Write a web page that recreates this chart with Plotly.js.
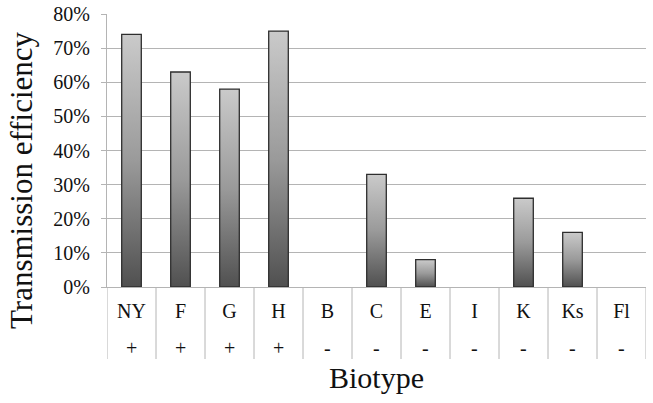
<!DOCTYPE html>
<html>
<head>
<meta charset="utf-8">
<script src="https://cdn.plot.ly/plotly-3.0.1.min.js"></script>
<style>html,body{margin:0;padding:0;background:#fff;}#chart{width:653px;height:403px;}</style>
</head>
<body>
<div id="chart"></div>
<script>
var biotypes = ["NY", "F", "G", "H", "B", "C", "E", "I", "K", "Ks", "Fl"];
var signs = ["+", "+", "+", "+", "-", "-", "-", "-", "-", "-", "-"];
var efficiency = [0.74, 0.63, 0.58, 0.75, 0, 0.33, 0.08, 0, 0.26, 0.16, 0];
var yTickVals = [0, 0.1, 0.2, 0.3, 0.4, 0.5, 0.6, 0.7, 0.8];
var xTitle = "Biotype";
var yTitle = "Transmission efficiency";

var FONT = "'Liberation Serif', 'Times New Roman', Times, serif";
var GRID = "#b4b4b4";

var trace = {
  type: "bar",
  x: biotypes,
  y: efficiency,
  width: 0.4,
  marker: {
    color: "#8c8c8c",
    line: {color: "#2e2e2e", width: efficiency.map(function (v) { return v > 0 ? 1.3 : 0; })}
  },
  hoverinfo: "x+y"
};

var shapes = [];
for (var i = 0; i <= biotypes.length; i++) {
  shapes.push({
    type: "line", xref: "x", yref: "paper", ysizemode: "pixel", yanchor: 0,
    x0: i - 0.5, x1: i - 0.5, y0: 0, y1: -72,
    line: {color: GRID, width: 1}
  });
}
var annotations = biotypes.map(function (b, i) {
  return {
    xref: "x", yref: "paper", x: b, y: 0, yanchor: "middle", yshift: -61,
    text: signs[i], showarrow: false, font: {family: FONT, size: 20, color: "#111"}
  };
});
annotations.push({
  xref: "paper", yref: "paper", x: 0, y: 0, xanchor: "center", yanchor: "middle",
  xshift: -86, yshift: 107, textangle: -90,
  text: yTitle, showarrow: false, font: {family: FONT, size: 31, color: "#111"}
});

var layout = {
  width: 653, height: 403,
  margin: {l: 107, r: 7, t: 14, b: 116},
  paper_bgcolor: "#fff", plot_bgcolor: "#fff",
  showlegend: false,
  font: {family: FONT, color: "#111"},
  xaxis: {
    type: "category",
    range: [-0.5, biotypes.length - 0.5],
    showgrid: false, zeroline: false,
    showline: true, linecolor: GRID, linewidth: 1,
    ticks: "", ticklabelstandoff: 6,
    tickfont: {family: FONT, size: 20, color: "#111"},
    title: {text: xTitle, font: {family: FONT, size: 30, color: "#111"}, standoff: 45},
    automargin: false
  },
  yaxis: {
    range: [0, 0.8],
    tickvals: yTickVals,
    tickformat: ".0%",
    showgrid: true, gridcolor: GRID, gridwidth: 1,
    zeroline: false,
    showline: true, linecolor: GRID, linewidth: 1,
    ticks: "outside", ticklen: 5, tickcolor: GRID, tickwidth: 1,
    ticklabelstandoff: 7,
    tickfont: {family: FONT, size: 20, color: "#111"},
    automargin: false
  },
  shapes: shapes,
  annotations: annotations
};

Plotly.newPlot("chart", [trace], layout, {displayModeBar: false, staticPlot: true}).then(function (gd) {
  var svg = gd.querySelector(".main-svg");
  var defs = svg.querySelector("defs");
  var ns = "http://www.w3.org/2000/svg";
  var grad = document.createElementNS(ns, "linearGradient");
  grad.setAttribute("id", "barGrad");
  grad.setAttribute("x1", "0"); grad.setAttribute("y1", "0");
  grad.setAttribute("x2", "0"); grad.setAttribute("y2", "1");
  [["0", "#cacaca"], ["0.5", "#9a9a9a"], ["1", "#505050"]].forEach(function (s) {
    var st = document.createElementNS(ns, "stop");
    st.setAttribute("offset", s[0]);
    st.setAttribute("stop-color", s[1]);
    grad.appendChild(st);
  });
  defs.appendChild(grad);
  gd.querySelectorAll(".trace.bars .point path").forEach(function (p) {
    p.style.fill = "url(#barGrad)";
  });
});
</script>
</body>
</html>
